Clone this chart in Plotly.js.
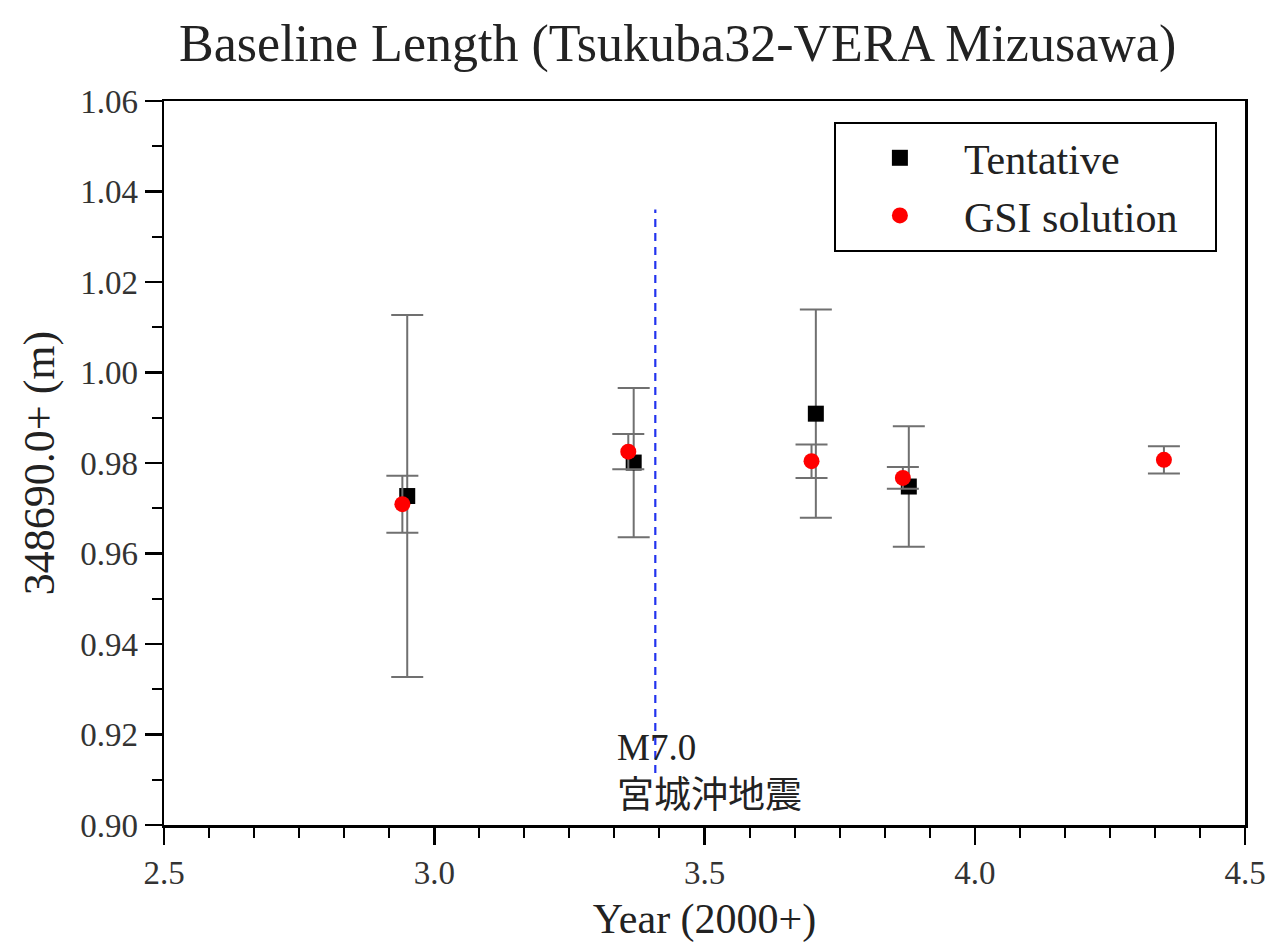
<!DOCTYPE html>
<html>
<head>
<meta charset="utf-8">
<script src="https://cdn.plot.ly/plotly-3.0.1.min.js"></script>
<style>html,body{margin:0;padding:0;background:#fff;}</style>
</head>
<body>
<div id="chart" style="width:1269px;height:943px;"></div>
<script>
// Tentative solution (year since 2000, baseline length - 348690.0 m, 1-sigma error)
const tentYear = [2.950, 3.369, 3.706, 3.878];
const tentLen  = [0.9727, 0.9801, 0.9909, 0.9748];
const tentErr  = [0.0400, 0.0165, 0.0230, 0.0133];

// GSI solution
const gsiYear = [2.941, 3.359, 3.698, 3.867, 4.350];
const gsiLen  = [0.9709, 0.9825, 0.9804, 0.9767, 0.9807];
const gsiErr  = [0.0063, 0.0039, 0.0037, 0.0024, 0.0030];

// Earthquake (M7.0 宮城沖地震) marker line
const quakeYear = [3.409, 3.409];
const quakeSpan = [0.9115, 1.036];
const quakeLabel = 'M7.0<br>宮城沖地震';

const serif = 'Liberation Serif, "Noto Sans CJK JP", serif';
const pad = '\u00a0\u00a0\u00a0';

const traces = [
  {
    x: quakeYear, y: quakeSpan, mode: 'lines', showlegend: false, hoverinfo: 'skip',
    line: {color: '#2233ee', width: 2.2, dash: '8px,6px'}
  },
  {
    x: tentYear, y: tentLen, mode: 'markers', name: 'Tentative' + pad,
    marker: {symbol: 'square', size: 16, color: '#000000'},
    error_y: {type: 'data', array: tentErr, visible: true, color: '#707070', thickness: 2, width: 16}
  },
  {
    x: gsiYear, y: gsiLen, mode: 'markers', name: 'GSI solution' + pad,
    marker: {symbol: 'circle', size: 16, color: '#ff0000'},
    error_y: {type: 'data', array: gsiErr, visible: true, color: '#707070', thickness: 2, width: 16}
  }
];

const axisCommon = {
  showline: true, linecolor: '#000', linewidth: 2.5, mirror: true,
  showgrid: false, zeroline: false,
  ticks: 'outside', ticklen: 17, tickwidth: 2.5, tickcolor: '#000',
  tickfont: {family: serif, size: 33, color: '#333'}
};

const layout = {
  width: 1269, height: 943,
  margin: {l: 164, r: 24, t: 101, b: 118},
  paper_bgcolor: '#fff', plot_bgcolor: '#fff',
  title: {
    text: 'Baseline Length (Tsukuba32-VERA Mizusawa)',
    font: {family: serif, size: 52, color: '#222'},
    x: 0.534, xanchor: 'center', y: 0.955, yanchor: 'middle'
  },
  xaxis: Object.assign({}, axisCommon, {
    range: [2.5, 4.5], tick0: 2.5, dtick: 0.5, tickformat: '.1f',
    minor: {tick0: 2.5, dtick: 1/12, ticks: 'outside', ticklen: 10, tickwidth: 2, tickcolor: '#000'},
    title: {text: 'Year (2000+)', font: {family: serif, size: 42, color: '#222'}, standoff: 14}
  }),
  yaxis: Object.assign({}, axisCommon, {
    range: [0.90, 1.06], tick0: 0.90, dtick: 0.02, tickformat: '.2f',
    minor: {tick0: 0.90, dtick: 0.01, ticks: 'outside', ticklen: 10, tickwidth: 2, tickcolor: '#000'},
    title: {text: '348690.0+ (m)\u00a0\u00a0\u00a0\u00a0\u00a0', font: {family: serif, size: 44, color: '#222'}, standoff: 12}
  }),
  legend: {
    x: 0.974, xanchor: 'right', y: 0.971, yanchor: 'top',
    bordercolor: '#000', borderwidth: 2, bgcolor: '#fff',
    font: {family: serif, size: 42, color: '#222'},
    itemwidth: 118
  },
  annotations: [{
    text: quakeLabel, xref: 'x', yref: 'y', x: 3.335, y: 0.9222,
    xanchor: 'left', yanchor: 'top', align: 'left', showarrow: false,
    font: {family: serif, size: 37, color: '#222'}
  }]
};

Plotly.newPlot('chart', traces, layout, {displayModeBar: false, staticPlot: true});
</script>
</body>
</html>
